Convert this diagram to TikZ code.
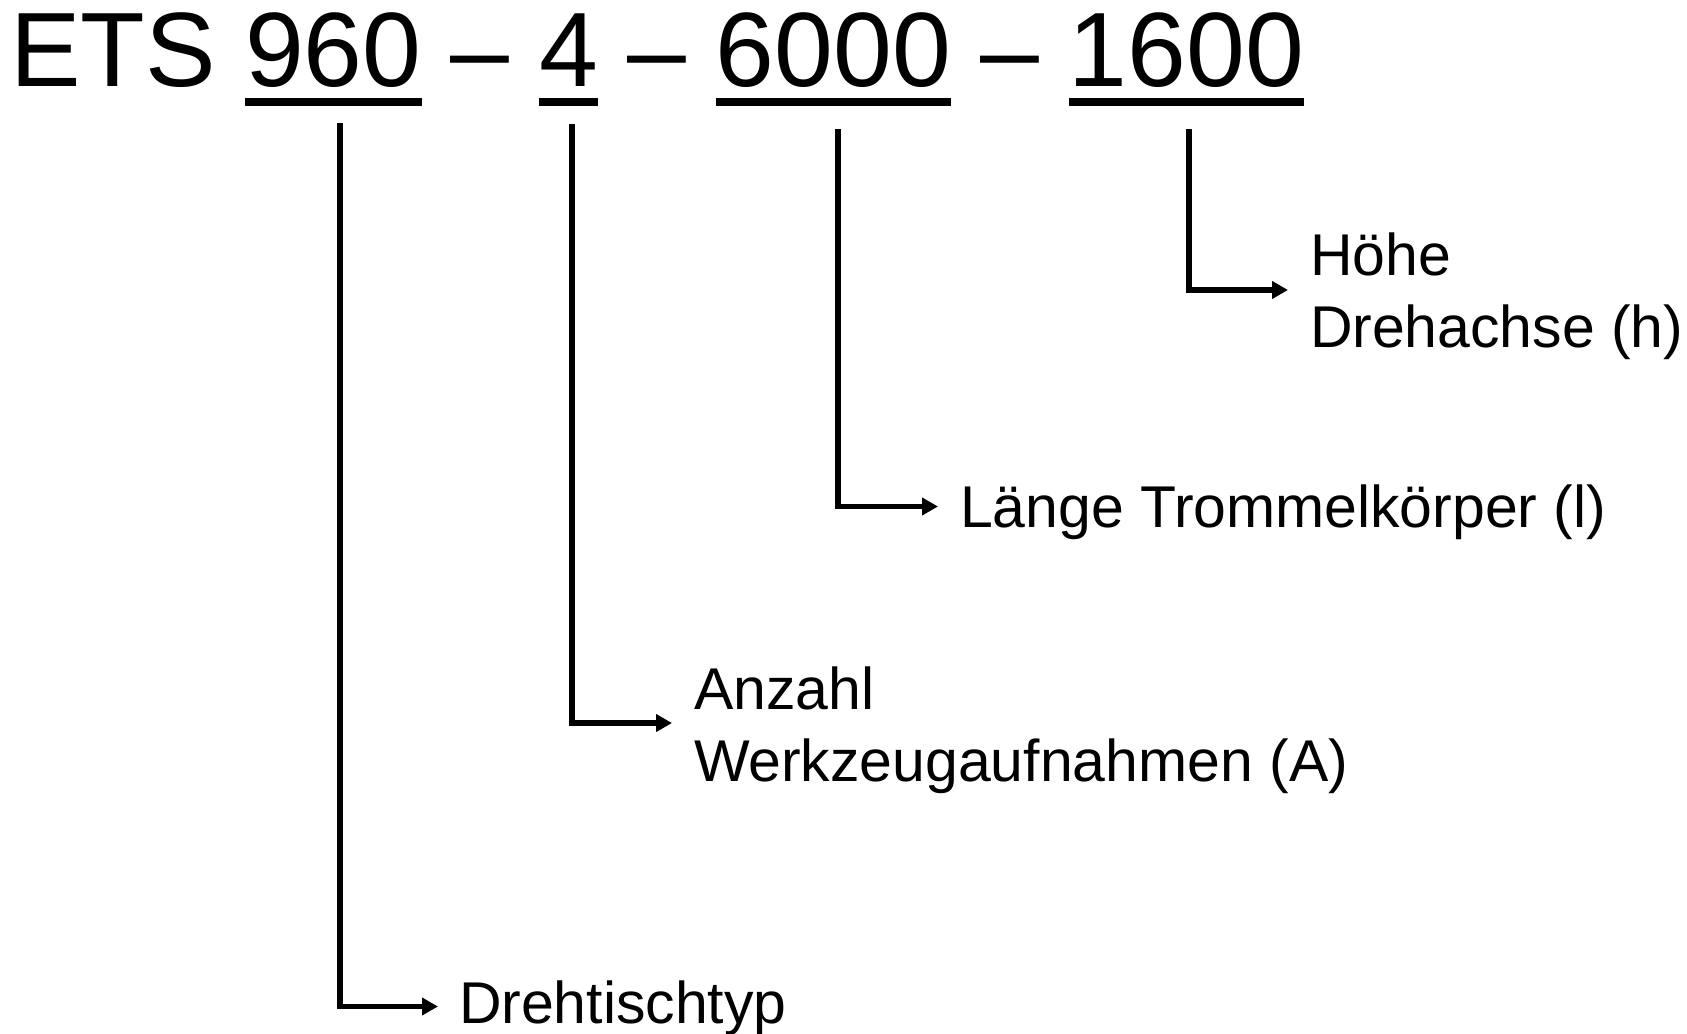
\documentclass[tikz,border=0pt]{standalone}
\usepackage{fontspec}
\setmainfont{Liberation Sans}
\usetikzlibrary{positioning,calc,arrows.meta}

\tikzset{every picture/.style={line width=0.75pt}}
\tikzset{
  title/.style={inner sep=0pt,outer sep=0pt,font=\fontsize{79.3pt}{90pt}\selectfont},
  lbl/.style={inner sep=0pt,outer sep=0pt,align=left,anchor=base west,font=\fontsize{44.2pt}{54pt}\selectfont},
  uline/.style={line width=5.6pt},
  conn/.style={line width=4.3pt,-{Triangle[length=12pt,width=12.75pt]}}
}

\begin{document}
\begin{tikzpicture}[x=0.75pt,y=0.75pt,yscale=-1,xscale=1]
\useasboundingbox (0,0) rectangle (1687,1034);
% Title line
\node [title,anchor=base west] (ets) at (10,87) {ETS};
\node [title,base right=22.1pt of ets] (n960) {960};
\node [title,base right=22.1pt of n960] (dsh1) {–};
\node [title,base right=22.1pt of dsh1] (n4) {4};
\node [title,base right=22.1pt of n4] (dsh2) {–};
\node [title,base right=22.1pt of dsh2] (n6000) {6000};
\node [title,base right=22.1pt of n6000] (dsh3) {–};
\node [title,base right=22.1pt of dsh3] (n1600) {1600};
% Underlines
\foreach \n in {n960,n4,n6000,n1600}
  \draw [uline] ($(\n.base west)+(0,15)$) -- ($(\n.base east)+(0,15)$);

% Text Node (base = last line)
\node [lbl] (lab960) at (459,1023) {Drehtischtyp};
% Text Node
\node [lbl] (lab4) at (694,781) {Anzahl\\Werkzeugaufnahmen (A)};
% Text Node
\node [lbl] (lab6000) at (960,527) {Länge Trommelkörper (l)};
% Text Node
\node [lbl] (lab1600) at (1310,347) {Höhe\\Drehachse (h)};

% Connectors
\coordinate (t960) at (340,123);
\coordinate (e960) at (438,1006.5);
\coordinate (t4) at (572,124);
\coordinate (e4) at (672,723);
\coordinate (t6000) at (838,129);
\coordinate (e6000) at (938,506.5);
\coordinate (t1600) at (1189,129);
\coordinate (e1600) at (1288,290);
\draw [conn] (t960) |- (e960);
\draw [conn] (t4) |- (e4);
\draw [conn] (t6000) |- (e6000);
\draw [conn] (t1600) |- (e1600);
\end{tikzpicture}
\end{document}
